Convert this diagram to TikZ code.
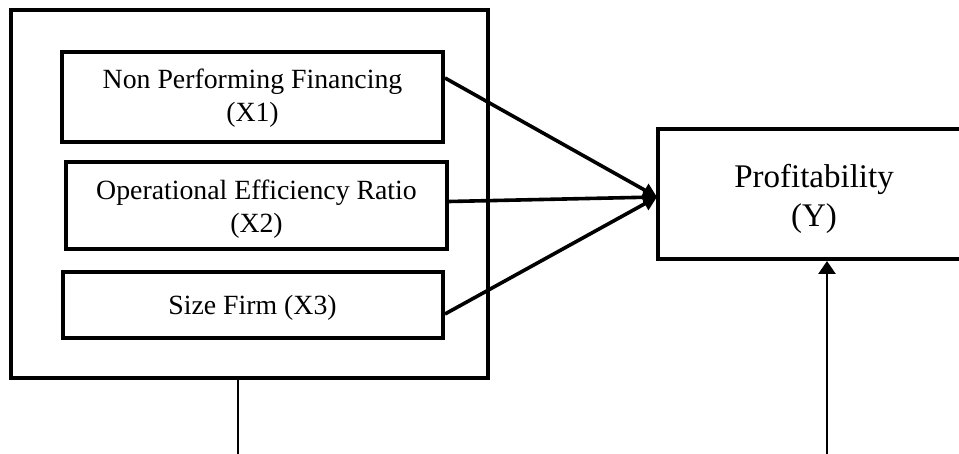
\documentclass[tikz,border=0pt]{standalone}
\usepackage{fontspec}
\setmainfont{Liberation Serif}
\usetikzlibrary{arrows.meta,calc}
\tikzset{
  outerbox/.style={draw, line width=4.8pt, minimum width=477pt, minimum height=368pt, inner sep=0pt},
  varbox/.style={draw, line width=4pt, inner sep=0pt},
  vartext/.style={inner sep=0pt, align=center, font=\fontsize{27.8pt}{33pt}\selectfont},
  ytext/.style={inner sep=0pt, align=center, font=\fontsize{33pt}{39pt}\selectfont},
  conn/.style={line width=3.6pt, -{Triangle[length=14pt,width=14pt]}},
  thinline/.style={line width=1.4pt},
  uparrow/.style={line width=2.6pt, -{Triangle[length=13pt,width=17pt]}}
}
\begin{document}
\begin{tikzpicture}[x=1pt,y=-1pt]
\clip (0,0) rectangle (959,454);
\fill[white] (0,0) rectangle (959,454);
\node[outerbox] (outer) at (249.5,194) {};
\node[varbox, minimum width=381pt, minimum height=90pt] (b1) at (252.5,97) {};
\node[vartext] (b1t) at (252.5,98) {Non Performing Financing\\(X1)};
\node[varbox, minimum width=381pt, minimum height=87pt] (b2) at (256.5,205.5) {};
\node[vartext] (b2t) at (256.5,209) {Operational Efficiency Ratio\\(X2)};
\node[varbox, minimum width=380pt, minimum height=66pt] (b3) at (253,305) {};
\node[vartext] (b3t) at (252.5,308) {Size Firm (X3)};
\node[varbox, minimum width=312pt, minimum height=130pt] (y) at (814,194) {};
\node[ytext] (yt) at (814,199) {Profitability\\(Y)};
\coordinate (tip) at (657,197);
\draw[conn] ([yshift=19pt]b1.east) -- (tip);
\draw[conn] ([yshift=4pt]b2.east) -- (tip);
\draw[conn] ([yshift=-9pt]b3.east) -- (tip);
\coordinate (lend) at (238,454);
\draw[thinline] (outer.south -| lend) -- (lend);
\coordinate (rstart) at (827,454);
\draw[uparrow] (rstart) -- (y.south -| rstart);
\end{tikzpicture}
\end{document}
